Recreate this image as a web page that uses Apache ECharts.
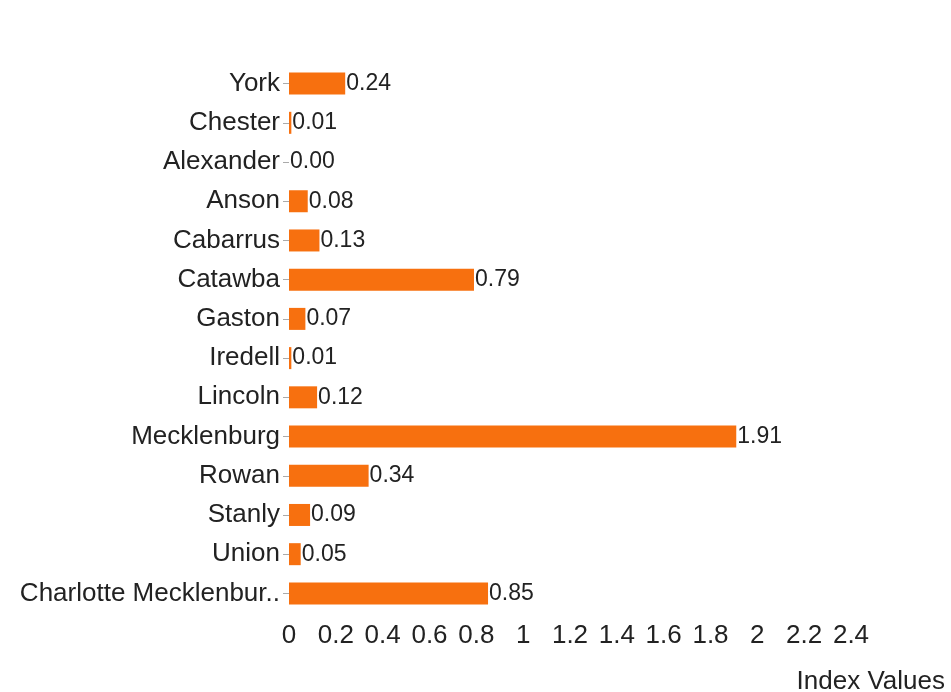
<!DOCTYPE html>
<html>
<head>
<meta charset="utf-8">
<script src="https://cdn.jsdelivr.net/npm/echarts@6/dist/echarts.min.js"></script>
<style>
  html, body { margin: 0; padding: 0; background: #fff; }
  #chart { width: 951px; height: 692px; }
</style>
</head>
<body>
<div id="chart"></div>
<script>
// Counties (top to bottom) and their index values
const counties = ['York', 'Chester', 'Alexander', 'Anson', 'Cabarrus', 'Catawba', 'Gaston',
  'Iredell', 'Lincoln', 'Mecklenburg', 'Rowan', 'Stanly', 'Union', 'Charlotte Mecklenburg'];
const indexValues = [0.24, 0.01, 0.00, 0.08, 0.13, 0.79, 0.07, 0.01, 0.12, 1.91, 0.34, 0.09, 0.05, 0.85];
const axisMin = 0, axisMax = 2.4, axisStep = 0.2;
const axisTitle = 'Index Values';

const FONT = 'Liberation Sans, Arial, Helvetica, sans-serif';
const chart = echarts.init(document.getElementById('chart'));
chart.setOption({
  animation: false,
  grid: { left: 289, right: 100, top: 64, height: 549, containLabel: false, outerBoundsMode: 'none' },
  xAxis: {
    type: 'value',
    min: axisMin, max: axisMax, interval: axisStep,
    name: axisTitle,
    nameLocation: 'end',
    nameGap: 94,
    nameTextStyle: { color: '#222', fontSize: 26, fontFamily: FONT,
      align: 'right', verticalAlign: 'top', padding: [56, 0, 0, 0] },
    axisLine: { show: false },
    axisTick: { show: false },
    splitLine: { show: false },
    axisLabel: { color: '#222', fontSize: 26, margin: 10, fontFamily: FONT,
      formatter: v => String(Math.round(v * 10) / 10) }
  },
  yAxis: {
    type: 'category',
    data: counties,
    inverse: true,
    axisLine: { show: false },
    axisTick: { show: true, alignWithLabel: true, length: 6, lineStyle: { color: '#aaa' } },
    axisLabel: { color: '#222', fontSize: 26, margin: 9, fontFamily: FONT,
      formatter: s => s.length > 20 ? s.slice(0, 20) + '..' : s }
  },
  series: [{
    type: 'bar',
    data: indexValues,
    barWidth: 22,
    itemStyle: { color: '#f7700f' },
    label: {
      show: true, position: 'right', distance: 1,
      color: '#222', fontSize: 23, fontFamily: FONT,
      formatter: p => p.value.toFixed(2)
    }
  }]
});
</script>
</body>
</html>
